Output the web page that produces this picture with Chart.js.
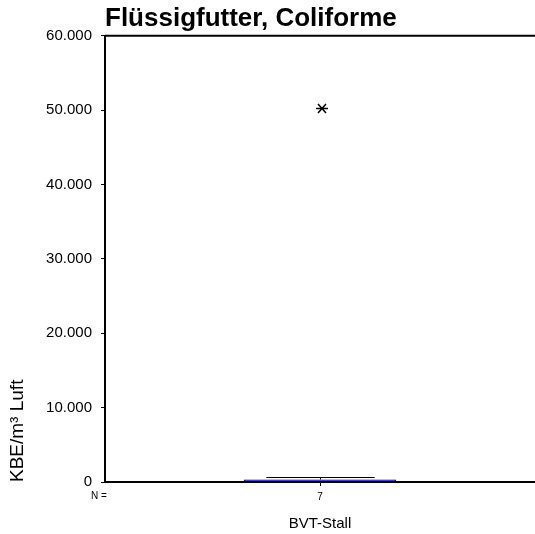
<!DOCTYPE html>
<html>
<head>
<meta charset="utf-8">
<script src="https://cdn.jsdelivr.net/npm/chart.js@4/dist/chart.umd.min.js"></script>
<style>
  html, body { margin: 0; padding: 0; background: #fff; }
  #wrap { width: 535px; height: 534px; }
</style>
</head>
<body>
<div id="wrap"><canvas id="boxChart" width="535" height="534"></canvas></div>
<script>
// box plot values
const categories = ['BVT-Stall'];
const counts = [7];
const whiskerLow = [0];
const quartile1 = [10];
const medians = [120];
const quartile3 = [330];
const whiskerHigh = [620];
const outliers = [50200];
const yTicks = [0, 10000, 20000, 30000, 40000, 50000, 60000];

function formatDe(v) {
    return v.toLocaleString('de-DE');
}

function crisp(v) {
    return Math.round(v) + 0.5;
}

// whiskers, median, outlier star, frame line and the "N =" label
const boxExtras = {
    id: 'boxExtras',
    afterDatasetsDraw(chart) {
        const {ctx, chartArea, scales} = chart;
        const x = scales.x;
        const y = scales.y;
        const meta = chart.getDatasetMeta(0);

        ctx.save();
        ctx.strokeStyle = '#000';
        ctx.lineWidth = 1;

        categories.forEach((cat, i) => {
            const bar = meta.data[i];
            const cx = crisp(x.getPixelForValue(i));
            const capHalf = bar.width * 0.355;

            const yMax = crisp(y.getPixelForValue(whiskerHigh[i]));
            const yMin = crisp(y.getPixelForValue(whiskerLow[i]));
            const yQ3 = y.getPixelForValue(quartile3[i]);
            const yQ1 = y.getPixelForValue(quartile1[i]);

            ctx.beginPath();
            ctx.moveTo(cx, yQ3);
            ctx.lineTo(cx, yMax);
            ctx.moveTo(cx - capHalf, yMax);
            ctx.lineTo(cx + capHalf, yMax);
            ctx.moveTo(cx, yQ1);
            ctx.lineTo(cx, yMin);
            ctx.stroke();

            // extreme value asterisk
            const oy = y.getPixelForValue(outliers[i]);
            const ox = x.getPixelForValue(i) + 2;
            ctx.lineWidth = 1.5;
            ctx.beginPath();
            ctx.moveTo(ox - 6, oy);
            ctx.lineTo(ox + 6, oy);
            ctx.moveTo(ox - 4, oy - 4.5);
            ctx.lineTo(ox + 4, oy + 4.5);
            ctx.moveTo(ox - 4, oy + 4.5);
            ctx.lineTo(ox + 4, oy - 4.5);
            ctx.stroke();
            ctx.lineWidth = 1;
        });

        // top frame line
        ctx.lineWidth = 2;
        ctx.beginPath();
        ctx.moveTo(chartArea.left, chartArea.top);
        ctx.lineTo(chartArea.right, chartArea.top);
        ctx.stroke();

        ctx.fillStyle = '#000';
        ctx.font = '10px Arial, "Liberation Sans"';
        ctx.textAlign = 'center';
        ctx.textBaseline = 'middle';
        ctx.fillText('N =', chartArea.left - 6, chartArea.bottom + 14);
        ctx.restore();
    }
};

const ctx = document.getElementById('boxChart').getContext('2d');

new Chart(ctx, {
    type: 'bar',
    data: {
        labels: categories,
        datasets: [{
            label: 'Box',
            data: categories.map((c, i) => [quartile1[i], quartile3[i]]),
            backgroundColor: '#0000ff',
            borderColor: '#000',
            borderWidth: 1,
            borderSkipped: false,
            barPercentage: 0.355,
            categoryPercentage: 1
        }]
    },
    options: {
        responsive: false,
        animation: false,
        layout: {
            padding: { left: 0, right: 0, top: 0, bottom: 1 }
        },
        scales: {
            y: {
                min: 0,
                max: 60000,
                afterBuildTicks(scale) {
                    scale.ticks = yTicks.map(v => ({value: v}));
                },
                afterFit(scale) {
                    scale.width = 105;
                },
                ticks: {
                    color: '#000',
                    padding: 9,
                    font: { family: 'Arial, "Liberation Sans"', size: 15 },
                    callback: v => formatDe(v)
                },
                grid: {
                    drawOnChartArea: false,
                    tickLength: 4,
                    color: '#000'
                },
                border: { color: '#000', width: 2 },
                title: {
                    display: true,
                    text: 'KBE/m³ Luft',
                    align: 'start',
                    color: '#000',
                    padding: { top: 6, bottom: 0 },
                    font: { family: 'Arial, "Liberation Sans"', size: 19 }
                }
            },
            x: {
                offset: true,
                ticks: {
                    color: '#000',
                    padding: 5,
                    font: { family: 'Arial, "Liberation Sans"', size: 10 },
                    callback: (v, i) => String(counts[i])
                },
                grid: {
                    offset: false,
                    drawOnChartArea: false,
                    tickLength: 4,
                    color: '#000'
                },
                border: { color: '#000', width: 2 },
                title: {
                    display: true,
                    text: categories[0],
                    color: '#000',
                    padding: { top: 7, bottom: 0 },
                    font: { family: 'Arial, "Liberation Sans"', size: 15 }
                }
            }
        },
        plugins: {
            legend: { display: false },
            tooltip: { enabled: false },
            title: {
                display: true,
                text: 'Flüssigfutter, Coliforme',
                align: 'start',
                fullSize: false,
                color: '#000',
                padding: { top: 3, bottom: 1.5 },
                font: { family: 'Arial, "Liberation Sans"', size: 26, weight: 'bold' }
            }
        }
    },
    plugins: [boxExtras]
});
</script>
</body>
</html>
